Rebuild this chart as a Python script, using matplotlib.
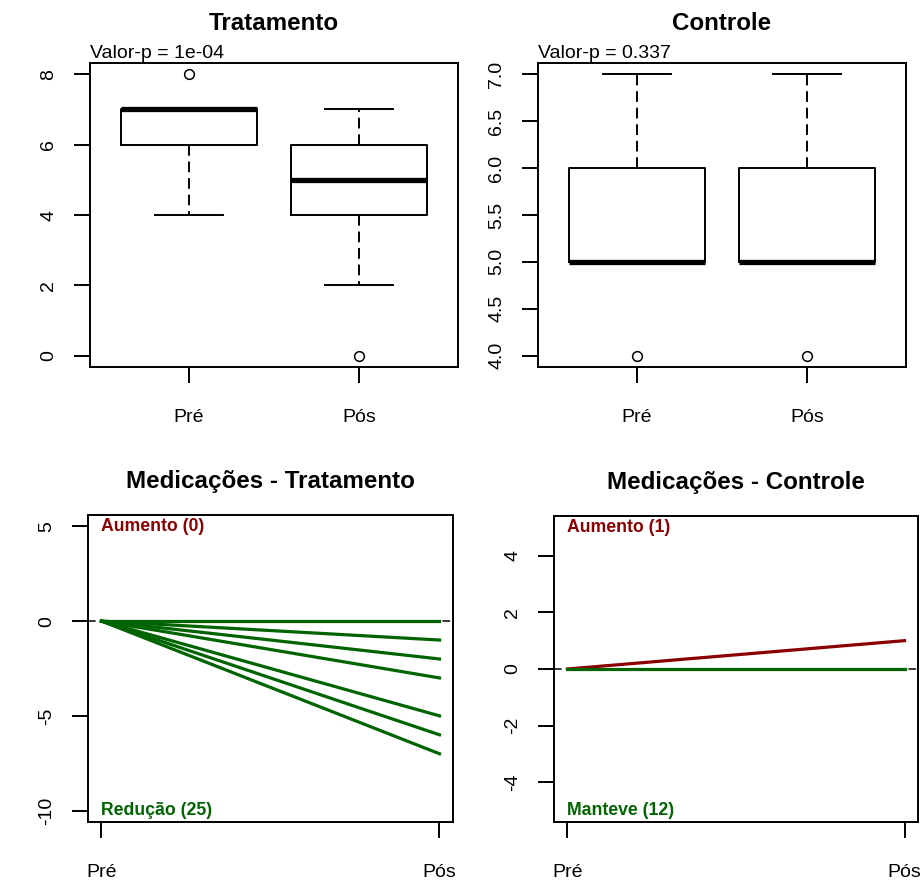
import matplotlib
matplotlib.use("Agg")
import matplotlib.pyplot as plt

plt.rcParams['font.family'] = ['Liberation Sans', 'DejaVu Sans']

grupos = ["Pré", "Pós"]

# estatísticas dos boxplots (Pré, Pós)
trat_q1 = [6, 4]
trat_med = [7, 5]
trat_q3 = [7, 6]
trat_whislo = [4, 2]
trat_whishi = [7, 7]
trat_out = [[8], [0]]

ctrl_q1 = [5, 5]
ctrl_med = [5, 5]
ctrl_q3 = [6, 6]
ctrl_whislo = [5, 5]
ctrl_whishi = [7, 7]
ctrl_out = [[4], [4]]

pval_trat = "1e-04"
pval_ctrl = "0.337"

# variação das medicações (Pós - Pré)
med_trat = [0, -1, -2, -3, -5, -6, -7]
med_ctrl = [1, 0]
cont_trat = [("Aumento", 0), ("Redução", 25)]
cont_ctrl = [("Aumento", 1), ("Manteve", 12)]

VERDE = "#006400"
VERMELHO = "#8B0000"
LW = 1.4
FS = 14

fig = plt.figure(figsize=(9.23, 8.81), dpi=100)
ax1 = fig.add_axes([0.0975, 0.5834, 0.3987, 0.3451])
ax2 = fig.add_axes([0.5829, 0.5834, 0.3987, 0.3451])
ax3 = fig.add_axes([0.0953, 0.0670, 0.3955, 0.3485])
ax4 = fig.add_axes([0.6002, 0.0670, 0.3944, 0.3473])


def estilo(ax, ypad):
    for s in ax.spines.values():
        s.set_linewidth(LW)
    ax.tick_params(axis='both', length=11.5, width=LW, labelsize=FS)
    ax.tick_params(axis='x', pad=18.5)
    ax.tick_params(axis='y', pad=ypad, labelrotation=90)
    for lab in ax.get_yticklabels():
        lab.set_va('center')


def painel_box(ax, q1, med, q3, lo, hi, out, titulo, pval, yticks, fmt):
    stats = []
    for i in range(2):
        stats.append(dict(q1=q1[i], med=med[i], q3=q3[i],
                          whislo=lo[i], whishi=hi[i], fliers=out[i]))
    ax.bxp(stats, positions=[1, 2], widths=0.8, capwidths=0.4,
           boxprops=dict(color='black', linewidth=LW),
           medianprops=dict(color='black', linewidth=3.8, solid_capstyle='butt'),
           whiskerprops=dict(color='black', linewidth=LW, linestyle=(0, (5.5, 3))),
           capprops=dict(color='black', linewidth=LW),
           flierprops=dict(marker='o', markerfacecolor='none', markeredgecolor='black',
                           markersize=7, markeredgewidth=1.1))
    vals = lo + hi + [v for o in out for v in o]
    vmin, vmax = min(vals), max(vals)
    r = vmax - vmin
    ax.set_ylim(vmin - 0.04 * r, vmax + 0.04 * r)
    ax.set_xlim(0.42, 2.58)
    ax.set_xticks([1, 2], grupos)
    ax.set_yticks(yticks, [fmt.format(v) for v in yticks])
    estilo(ax, 12)
    ax.set_title(titulo, fontsize=17.4, fontweight='bold', pad=23.5)
    ax.annotate("Valor-p = " + pval, xy=(0, 1), xycoords='axes fraction',
                xytext=(0, 3.5), textcoords='offset points',
                ha='left', va='baseline', fontsize=FS)


def painel_med(ax, variacoes, contagens, titulo, ylim, yticks):
    ax.axhline(0, color='black', linewidth=1.1, linestyle=(0, (5, 3)), zorder=1)
    for v in sorted(variacoes, reverse=True):
        cor = VERMELHO if v > 0 else VERDE
        ax.plot([1, 2], [0, v], color=cor, linewidth=2.3, zorder=2)
    r = ylim[1] - ylim[0]
    ax.set_ylim(ylim[0] - 0.04 * r, ylim[1] + 0.04 * r)
    ax.set_xlim(0.96, 2.04)
    ax.set_xticks([1, 2], grupos)
    ax.set_yticks(yticks, [str(v) for v in yticks])
    estilo(ax, 12)
    (nome_a, n_a), (nome_b, n_b) = contagens
    ax.text(1, ylim[1], f"{nome_a} ({n_a})", color=VERMELHO, fontweight='bold',
            fontsize=12.7, ha='left', va='center')
    ax.text(1, ylim[0], f"{nome_b} ({n_b})", color=VERDE, fontweight='bold',
            fontsize=12.7, ha='left', va='center')
    ax.set_title(titulo, fontsize=17.4, fontweight='bold', pad=19.2)


painel_box(ax1, trat_q1, trat_med, trat_q3, trat_whislo, trat_whishi, trat_out,
           "Tratamento", pval_trat, [0, 2, 4, 6, 8], "{:d}")
painel_box(ax2, ctrl_q1, ctrl_med, ctrl_q3, ctrl_whislo, ctrl_whishi, ctrl_out,
           "Controle", pval_ctrl, [4.0, 4.5, 5.0, 5.5, 6.0, 6.5, 7.0], "{:.1f}")
painel_med(ax3, med_trat, cont_trat, "Medicações - Tratamento", (-10, 5), [-10, -5, 0, 5])
painel_med(ax4, med_ctrl, cont_ctrl, "Medicações - Controle", (-5, 5), [-4, -2, 0, 2, 4])

fig.savefig("out.png", dpi=100)
